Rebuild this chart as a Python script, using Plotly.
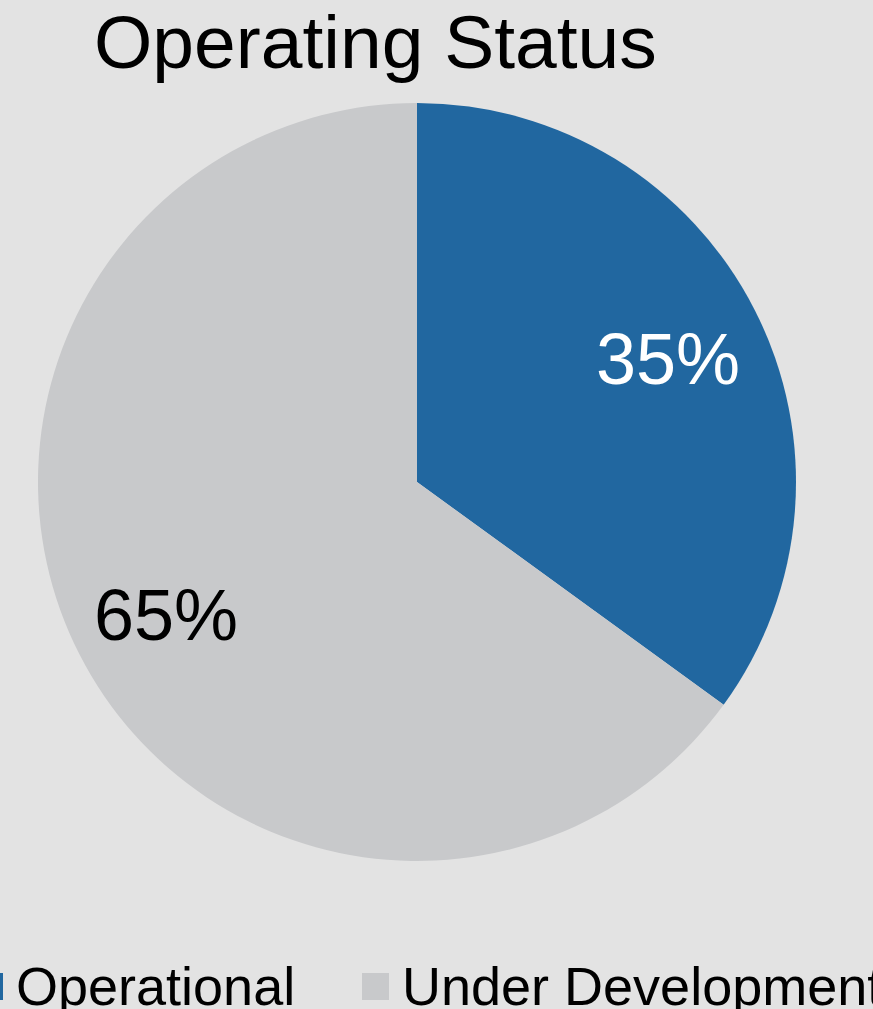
import math
import plotly.graph_objects as go

# Share of projects by operating status
categories = ["Operational", "Under Development"]
shares = [35, 65]
colors = ["#2167a0", "#c8c9cb"]
text_colors = ["#ffffff", "#000000"]

title_text = "Operating Status"
FONT = "Liberation Sans, Arial, Helvetica, sans-serif"
BG = "#e3e3e3"

W, H = 873, 1009

# Pie geometry in pixels (centre and radius)
CX, CY, R = 417, 482, 379
LABEL_RADIUS = 0.744

fig = go.Figure()
fig.add_trace(go.Pie(
    labels=categories,
    values=shares,
    sort=False,
    direction="clockwise",
    rotation=0,
    marker=dict(colors=colors, line=dict(width=0)),
    textinfo="none",
    hoverinfo="label+percent",
    showlegend=False,
    domain=dict(x=[(CX - R) / W, (CX + R) / W],
                y=[1 - (CY + R) / H, 1 - (CY - R) / H]),
))

# Percentage labels placed along each slice's mid-angle
total = sum(shares)
start = 90.0
for v, c in zip(shares, text_colors):
    sweep = 360.0 * v / total
    mid = math.radians(start - sweep / 2)
    start -= sweep
    px = CX + LABEL_RADIUS * R * math.cos(mid)
    py = CY - LABEL_RADIUS * R * math.sin(mid)
    fig.add_annotation(
        text=f"{v}%", xref="paper", yref="paper",
        x=px / W, y=1 - py / H, xanchor="center", yanchor="middle",
        yshift=-5,
        showarrow=False, font=dict(family=FONT, size=72, color=c),
    )

# Title
fig.add_annotation(
    text=title_text, xref="paper", yref="paper",
    x=375 / W, y=1 + 2 / H, xanchor="center", yanchor="top",
    showarrow=False, font=dict(family=FONT, size=75, color="#000000"),
)

# Legend: swatch + label per category
legend_swatch_x = [-24, 362]
legend_text_x = [14, 400]
sw = 27
sw_top, sw_bottom = 973, 1000
for i, name in enumerate(categories):
    x0 = legend_swatch_x[i]
    fig.add_shape(
        type="rect", xref="paper", yref="paper",
        x0=x0 / W, x1=(x0 + sw) / W,
        y0=1 - sw_bottom / H, y1=1 - sw_top / H,
        fillcolor=colors[i], line=dict(width=0), layer="above",
    )
    fig.add_annotation(
        text=name, xref="paper", yref="paper",
        x=legend_text_x[i] / W, y=1 - 986 / H,
        xanchor="left", yanchor="middle", showarrow=False,
        font=dict(family=FONT, size=54, color="#000000"),
    )

fig.update_layout(
    width=W, height=H,
    margin=dict(l=0, r=0, t=0, b=0),
    paper_bgcolor=BG, plot_bgcolor=BG,
    showlegend=False,
)

fig.write_html("out.html")
